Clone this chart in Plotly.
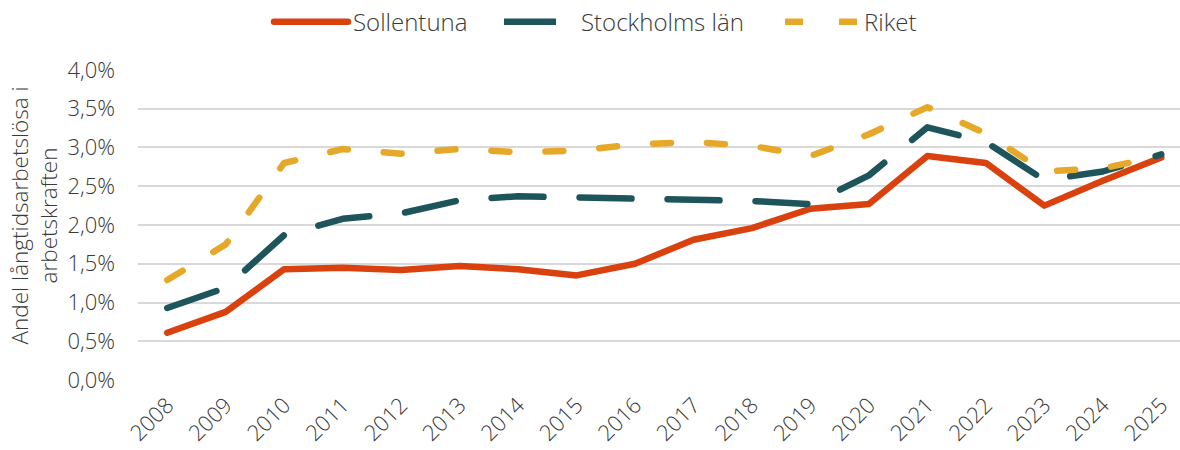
import plotly.graph_objects as go

years = [str(y) for y in range(2008, 2026)]
sollentuna = [0.61, 0.88, 1.43, 1.45, 1.42, 1.47, 1.43, 1.35, 1.50, 1.81, 1.96, 2.21, 2.27, 2.89, 2.80, 2.25, 2.57, 2.87]
stockholm = [0.93, 1.19, 1.87, 2.08, 2.15, 2.32, 2.37, 2.36, 2.33, 2.32, 2.31, 2.27, 2.64, 3.26, 3.07, 2.58, 2.69, 2.91]
riket = [1.29, 1.75, 2.80, 2.98, 2.92, 2.98, 2.94, 2.96, 3.04, 3.07, 3.02, 2.89, 3.17, 3.52, 3.18, 2.69, 2.73, 2.89]
y_ticks = [0.0, 0.5, 1.0, 1.5, 2.0, 2.5, 3.0, 3.5, 4.0]
y_title = "Andel långtidsarbetslösa i<br>arbetskraften"

FONT = "Open Sans"
TXT = "#3A3A3A"

fig = go.Figure()
fig.add_trace(go.Scatter(x=years, y=sollentuna, name="Sollentuna", mode="lines", legend="legend",
                         line=dict(color="#D9410E", width=6.5)))
fig.add_trace(go.Scatter(x=years, y=stockholm, name="Stockholms län", mode="lines", legend="legend2",
                         line=dict(color="#1E555B", width=6.5, dash="52px,36px")))
fig.add_trace(go.Scatter(x=years, y=riket, name="Riket", mode="lines", legend="legend3",
                         line=dict(color="#E6A828", width=6.5, dash="18px,36px")))

def leg(x_px, w):
    return dict(orientation="h", xref="container", yref="container",
                x=x_px / 1180, xanchor="left", y=0.951, yanchor="middle",
                font=dict(size=24, color=TXT, family=FONT, weight=300),
                itemwidth=w, bgcolor="rgba(0,0,0,0)", borderwidth=0)

fig.update_layout(
    width=1180, height=450,
    margin=dict(l=138, r=0, t=69, b=69, autoexpand=False),
    plot_bgcolor="white", paper_bgcolor="white",
    font=dict(family=FONT, color=TXT, size=22, weight=300),
    showlegend=True,
    legend=leg(269, 74),
    legend2=leg(499, 72),
    legend3=leg(780, 74),
)
fig.update_xaxes(type="category", range=[-0.5, 17.32], showgrid=False, showline=False,
                 ticks="", tickangle=-45, ticklabelstandoff=6,
                 tickfont=dict(size=22, color=TXT, family=FONT, weight=300))
fig.update_yaxes(range=[-0.012, 4.012], tickvals=y_ticks,
                 ticktext=[f"{v:.1f}%".replace(".", ",") for v in y_ticks],
                 showgrid=True, gridcolor="#D9D9D9", gridwidth=1.5, zeroline=False,
                 showline=False, ticks="", ticklabelstandoff=22,
                 tickfont=dict(size=22, color=TXT, family=FONT, weight=300))
fig.add_annotation(text=y_title, xref="paper", yref="paper", x=-0.1, y=0.53,
                   xanchor="center", yanchor="middle", textangle=-90, showarrow=False,
                   align="center", font=dict(size=22.5, color=TXT, family=FONT, weight=300))

post = """
document.body.style.margin='0';
document.body.style.padding='0';
document.querySelectorAll('.scatterlayer path.js-line, .legend path.js-line').forEach(function(p){
  p.style.strokeLinecap='round'; p.style.strokeLinejoin='round';
});
"""
fig.write_html("out.html", post_script=post, config={"displayModeBar": False})
